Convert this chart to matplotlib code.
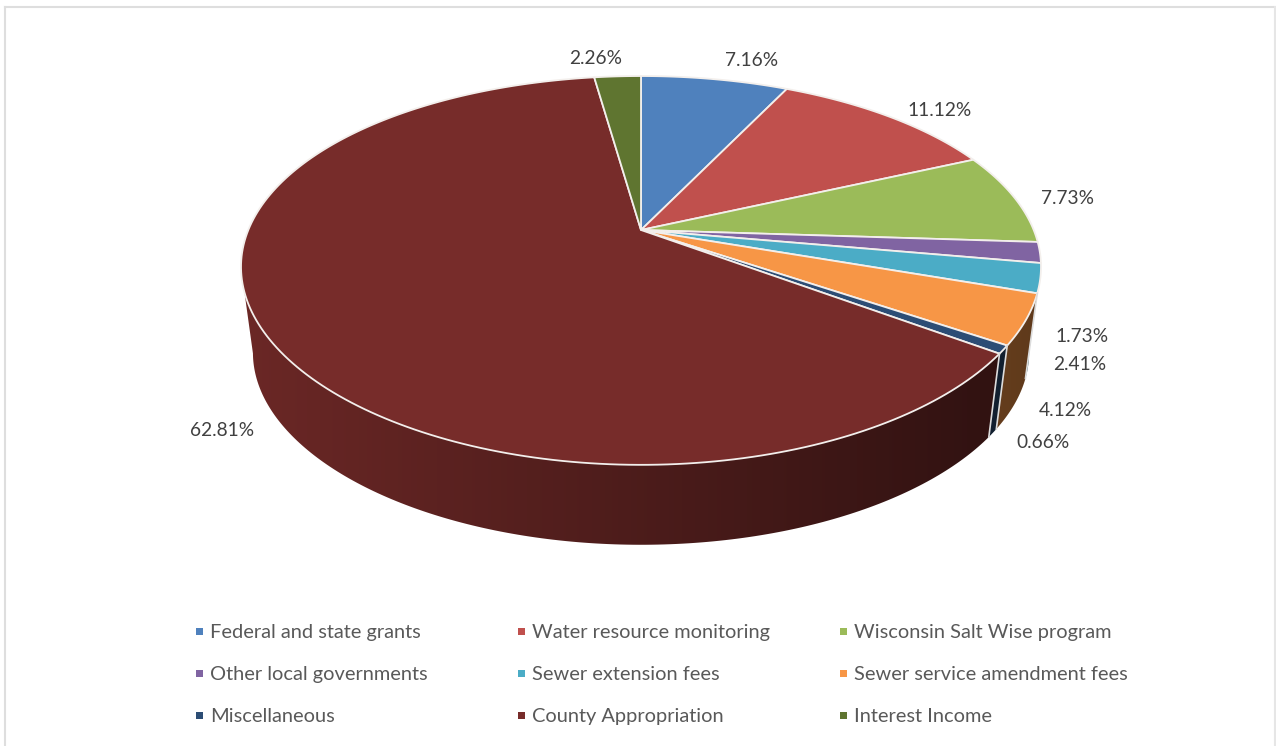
import numpy as np
import matplotlib
matplotlib.use("Agg")
import matplotlib.pyplot as plt
from matplotlib.patches import Polygon, Rectangle

# Fuentes de ingreso y porcentaje de cada una
categorias = ["Federal and state grants", "Water resource monitoring", "Wisconsin Salt Wise program",
              "Other local governments", "Sewer extension fees", "Sewer service amendment fees",
              "Miscellaneous", "County Appropriation", "Interest Income"]
valores = [7.16, 11.12, 7.73, 1.73, 2.41, 4.12, 0.66, 62.81, 2.26]
colores = ["#4f81bd", "#c0504d", "#9bbb59", "#8064a2", "#4bacc6", "#f79646",
           "#2c4d75", "#772c2a", "#5f7530"]

# Posicion de las etiquetas de porcentaje
pos_etiquetas = [(752, 60), (940, 110), (1067, 199), (1082, 337), (1080, 365),
                 (1065, 410), (1043, 443), (222, 430), (596, 59)]

plt.rcParams["font.family"] = ["Lato", "DejaVu Sans"]
fig = plt.figure(figsize=(12.76, 7.46), dpi=100)
ax = fig.add_axes([0, 0, 1, 1])
ax.set_xlim(0, 1276)
ax.set_ylim(746, 0)
ax.axis("off")

# Marco gris del grafico
ax.plot([5, 5], [746, 6.5], color="#dedede", lw=1.5)
ax.plot([5, 1275], [6.5, 6.5], color="#dedede", lw=1.5)
ax.plot([1275, 1275], [6.5, 746], color="#e6e6e6", lw=1.5)

# Perspectiva del disco
CX = 641
KX = 0.19
KY = 0.208


def tapa(ang):
    # angulo en radianes desde las 12, sentido horario
    u, v = np.sin(ang), np.cos(ang)
    return CX + 392.7 * u / (1 + KX * v), 230 - 186 * v / (1 + KY * v)


def base(ang):
    u, v = np.sin(ang), np.cos(ang)
    return CX + 381 * u / (1 + KX * v), 317 - 180.4 * v / (1 + KY * v)


bordes = np.radians(np.concatenate([[0], np.cumsum(valores)]) * 3.6)
bordes[-1] = 2 * np.pi

# Cara lateral con degradado horizontal, mas oscura hacia la derecha
sombra = np.clip(0.9 - 0.52 * (np.arange(1276) - 241) / 800, 0.3, 0.9)
for i, color in enumerate(colores):
    angs = np.linspace(bordes[i], bordes[i + 1], 300)
    # solo la parte delantera del disco, hasta donde el borde es mas ancho
    angs = angs[np.cos(angs) < -KX]
    if len(angs) < 2:
        continue
    xt, yt = tapa(angs)
    xb, yb = base(angs[::-1])
    contorno = Polygon(np.column_stack([np.r_[xt, xb], np.r_[yt, yb]]), closed=True,
                       transform=ax.transData, facecolor="none", edgecolor="none")
    ax.add_patch(contorno)
    rgb = np.array(matplotlib.colors.to_rgb(color))
    imagen = (sombra[:, None] * rgb)[None, :, :]
    im = ax.imshow(imagen, extent=(0, 1276, 746, 0), aspect="auto", interpolation="bilinear")
    im.set_clip_path(contorno)
ax.set_xlim(0, 1276)
ax.set_ylim(746, 0)

# Lineas claras entre sectores sobre el lateral
for b in bordes[:-1]:
    if np.cos(b) < -0.3:
        x0, y0 = tapa(b)
        x1, y1 = base(b)
        ax.plot([x0, x1], [y0, y1], color="#dcdcdc", lw=1.2)

# Cara superior
for i, color in enumerate(colores):
    angs = np.linspace(bordes[i], bordes[i + 1], 200)
    xs, ys = tapa(angs)
    ax.fill(np.r_[CX, xs], np.r_[230, ys], facecolor=color, edgecolor="#f3efec", lw=1.3, joinstyle="round")

# Porcentajes
for valor, (x, y) in zip(valores, pos_etiquetas):
    ax.text(x, y, f"{valor:.2f}%", ha="center", va="center", fontsize=13.8, color="#404040")

# Leyenda en tres columnas
col_x = [197, 519, 841]
fila_y = [632, 674, 716]
for i, (nombre, color) in enumerate(zip(categorias, colores)):
    x = col_x[i % 3]
    y = fila_y[i // 3]
    ax.add_patch(Rectangle((x - 1, y - 3.8), 7, 7, color=color, lw=0))
    ax.text(x + 13, y + 6, nombre, ha="left", va="baseline", fontsize=14.45, color="#595959")

fig.savefig("out.png", dpi=100)
